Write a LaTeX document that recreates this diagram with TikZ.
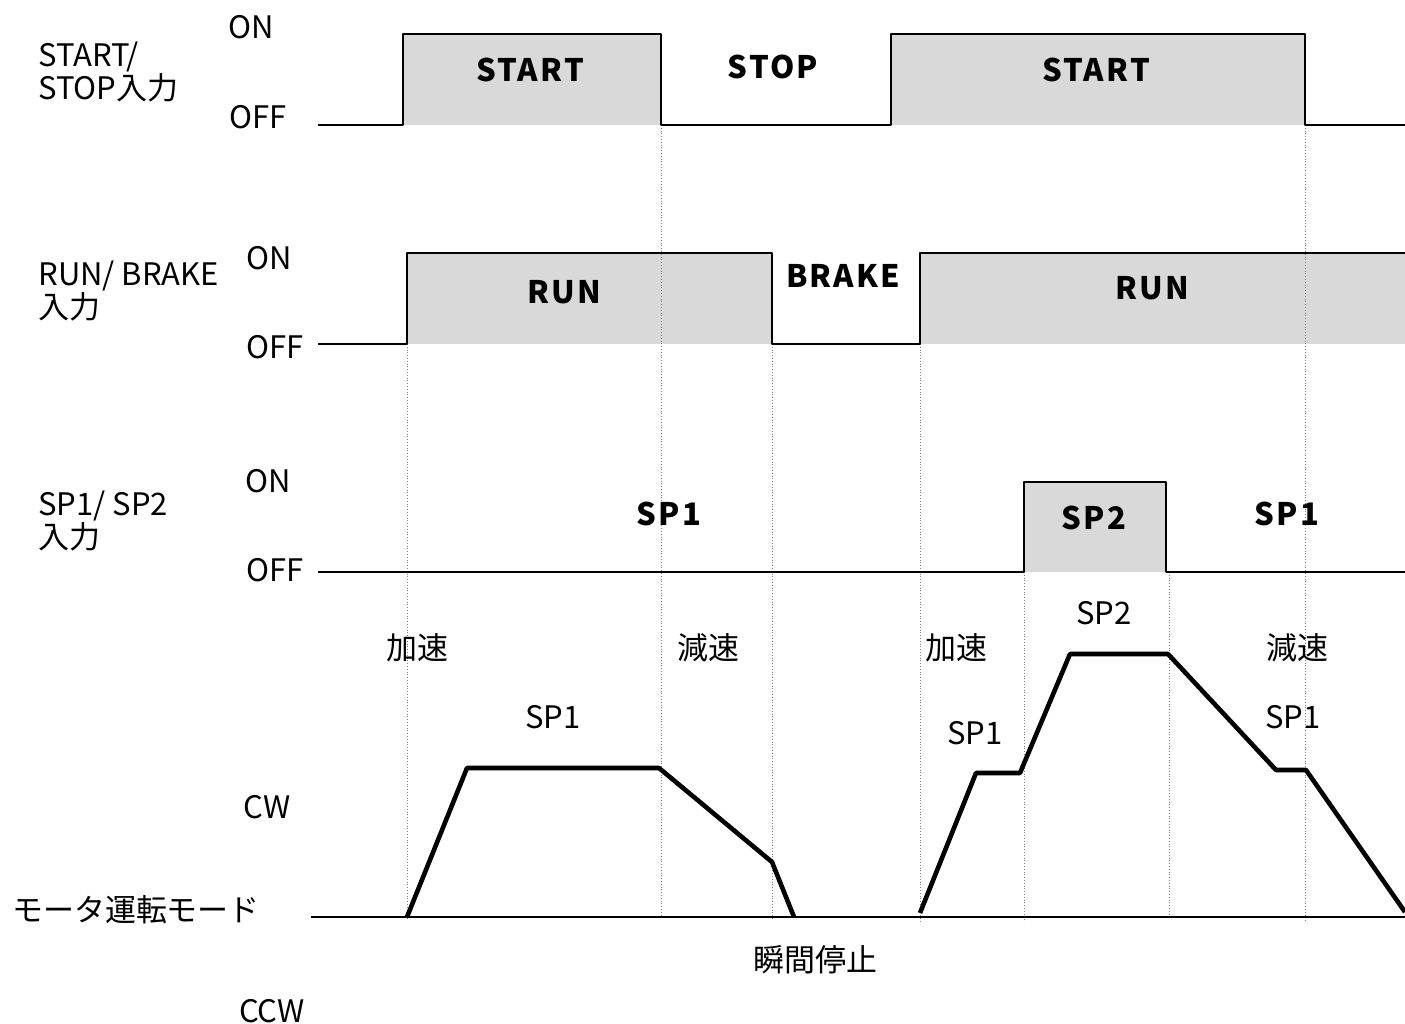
\documentclass[tikz,border=0pt]{standalone}
\usepackage{fontspec}
\setmainfont{Noto Sans CJK JP}
\usepackage{tikz}
\usepackage{xcolor}
\definecolor{sigfill}{HTML}{D9D9D9}

\begin{document}
\begin{tikzpicture}[x=0.5pt,y=-0.5pt,line join=round,
    every node/.style={inner sep=0pt,font=\fontsize{15.5}{16.5}\selectfont},
    bold/.style={font=\fontsize{15.5}{16.5}\selectfont\bfseries\addfontfeatures{LetterSpace=7}},
    signal/.style={line width=1.25pt},
    motor/.style={line width=2.3pt},
    guide/.style={gray,densely dotted,line width=0.4pt}]
  \useasboundingbox (0,0) rectangle (1405,1024);
  % gray fills under the ON levels
  \fill[sigfill] (403,34) rectangle (661,125);
  \fill[sigfill] (891,34) rectangle (1305,125);
  \fill[sigfill] (407,253) rectangle (772,344);
  \fill[sigfill] (920,253) rectangle (1405,344);
  \fill[sigfill] (1024,482) rectangle (1166,572);
  % dotted guides down to the motor axis
  \foreach \x/\ya/\yb in {407/344/920,661/125/917,772/344/920,920/344/922,
                          1024/572/922,1169/572/917,1305/125/922}{
    \draw[guide] (\x,\ya) -- (\x,\yb);
  }
  % START/STOP input
  \draw[signal] (318,125) -- (403,125) -- (403,34) -- (661,34) -- (661,125)
    -- (891,125) -- (891,34) -- (1305,34) -- (1305,125) -- (1405,125);
  \node[align=left,anchor=west] (ssname) at (38,72) {START/\\STOP入力};
  \node (sson) at (251,27) {ON};
  \node (ssoff) at (258,117) {OFF};
  \node[bold] (start1) at (530,70) {START};
  \node[bold] (stop) at (773,67) {STOP};
  \node[bold] (start2) at (1096,70) {START};
  % RUN/BRAKE input
  \draw[signal] (318,344) -- (407,344) -- (407,253) -- (772,253) -- (772,344)
    -- (920,344) -- (920,253) -- (1405,253);
  \node[align=left,anchor=west] (rbname) at (38,291) {RUN/ BRAKE\\入力};
  \node (rbon) at (269,258) {ON};
  \node (rboff) at (275,347) {OFF};
  \node[bold] (run1) at (564,292) {RUN};
  \node[bold] (brake) at (843,276) {BRAKE};
  \node[bold] (run2) at (1152,288) {RUN};
  % SP1/SP2 input
  \draw[signal] (318,572) -- (1024,572) -- (1024,482) -- (1166,482) -- (1166,572)
    -- (1405,572);
  \node[align=left,anchor=west] (spname) at (38,521) {SP1/ SP2\\入力};
  \node (spon) at (268,481) {ON};
  \node (spoff) at (275,570) {OFF};
  \node[bold] (sp1a) at (669,514) {SP1};
  \node[bold] (sp2) at (1094,518) {SP2};
  \node[bold] (sp1b) at (1287,514) {SP1};
  % motor run mode
  \draw[signal] (311,917) -- (1405,917);
  \draw[motor] (407,917) -- (467,768) -- (659,768) -- (772,862) -- (794,917);
  \draw[motor] (920,913) -- (976,773) -- (1020,773) -- (1070,654) -- (1168,654)
    -- (1276,770) -- (1306,770) -- (1405,912);
  \node (mode) at (136,910) {モータ運転モード};
  \node (cw) at (267,807) {CW};
  \node (ccw) at (272,1011) {CCW};
  \node (acc1) at (417,648) {加速};
  \node (dec1) at (708,648) {減速};
  \node (spd1) at (553,717) {SP1};
  \node (stopnow) at (815,960) {瞬間停止};
  \node (acc2) at (956,648) {加速};
  \node (spd2) at (1104,613) {SP2};
  \node (spd3) at (975,733) {SP1};
  \node (dec2) at (1297,648) {減速};
  \node (spd4) at (1293,717) {SP1};
\end{tikzpicture}
\end{document}
